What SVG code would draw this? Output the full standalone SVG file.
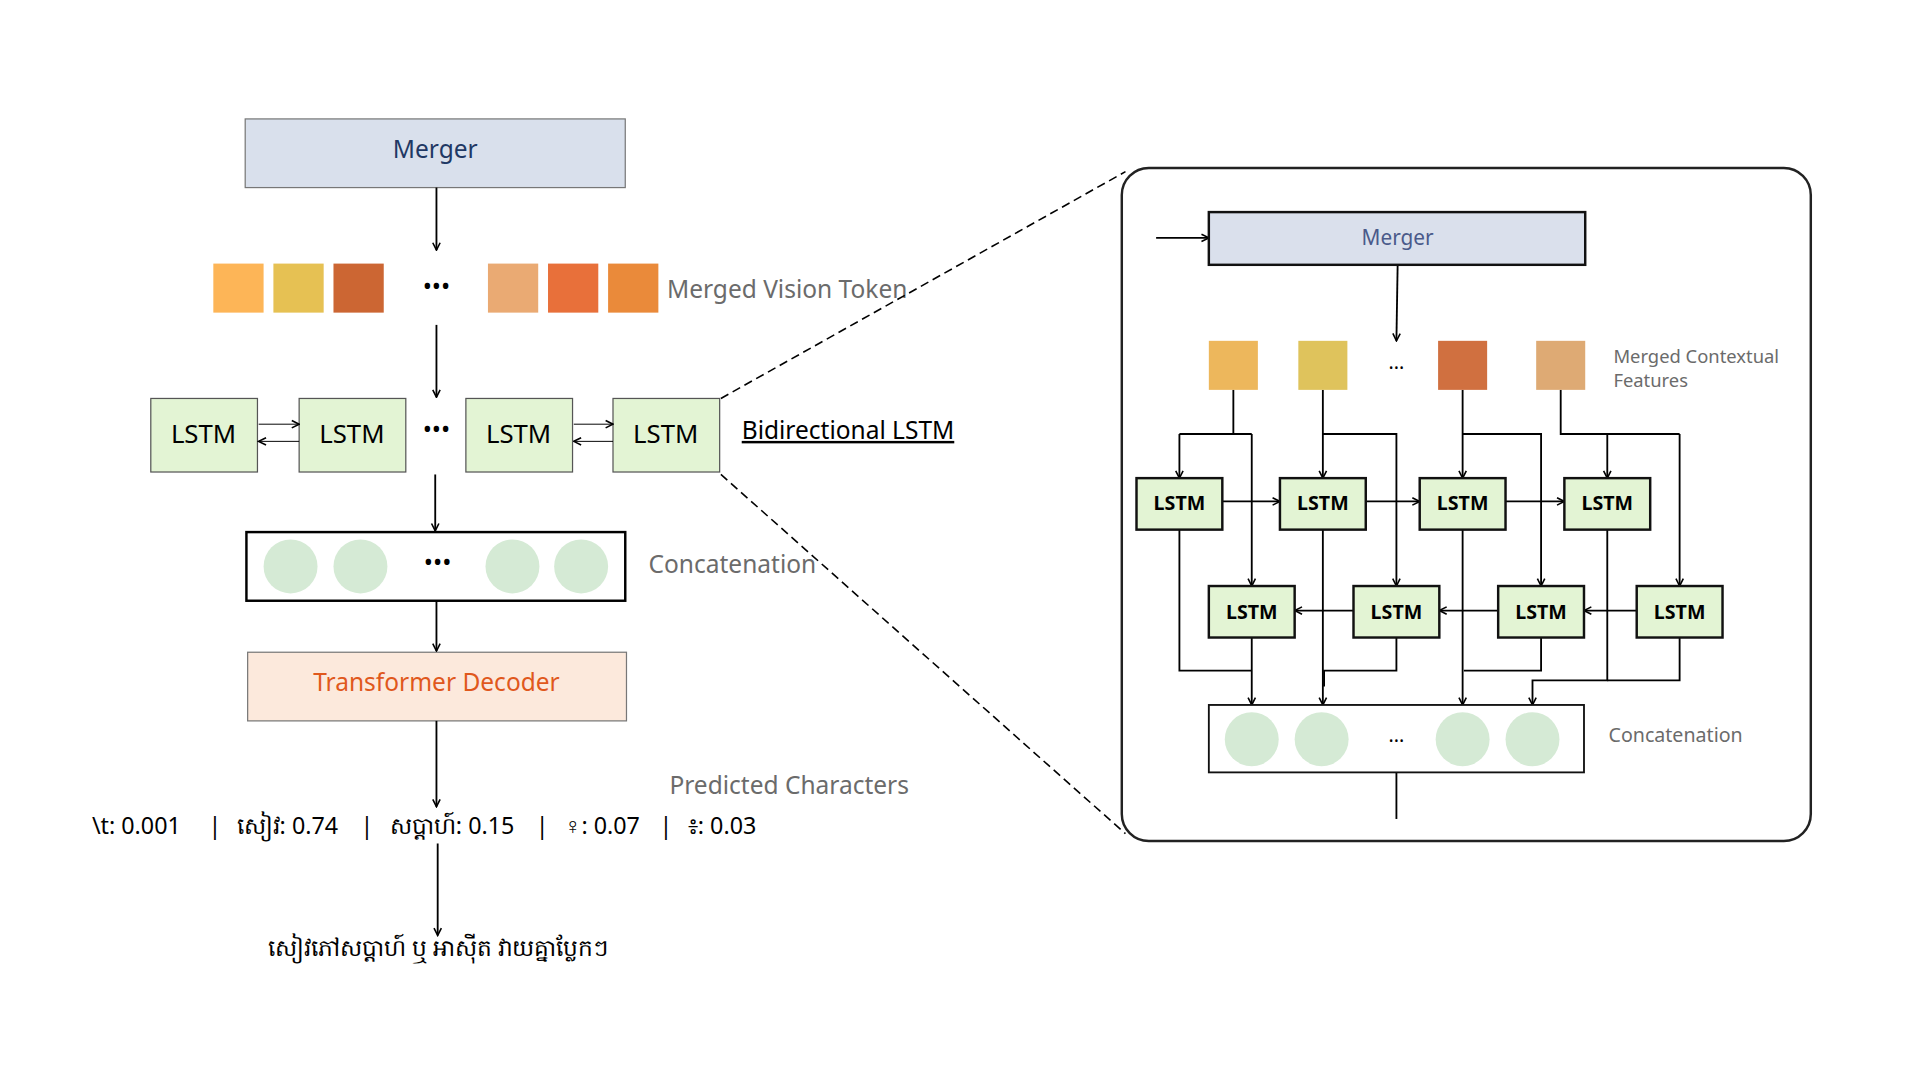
<svg xmlns="http://www.w3.org/2000/svg" width="1920" height="1080" viewBox="0 0 1920 1080">
<style>
text{font-family:"Noto Sans","Open Sans",sans-serif}
.c{stroke:#000;stroke-width:1.5;fill:none}
.a{marker-end:url(#ah)}
.lbl{fill:#6b6b6b;font-size:20px}
.lstm{fill:#e3f4d4;stroke:#555;stroke-width:1}
.il{fill:#e3f4d4;stroke:#111;stroke-width:2}
.it{font-size:16px;font-weight:bold;text-anchor:middle}
.cir{fill:#d5ead5}
.dot{font-size:20px;text-anchor:middle}
</style>
<defs>
<marker id="ah" markerWidth="8" markerHeight="8" refX="7" refY="4" orient="auto" markerUnits="userSpaceOnUse"><path d="M1,1 L7,4 L1,7" fill="none" stroke="#000" stroke-width="1.3"/></marker>
</defs>
<rect width="1920" height="1080" fill="#fff"/>
<g transform="scale(1.226)">
<g id="merger"><rect x="200" y="97" width="310" height="56" fill="#d9e0ec" stroke="#777"/><text x="355" y="129" font-size="20" fill="#1f3864" text-anchor="middle">Merger</text></g>
<g id="tokens">
<rect x="174" y="215" width="41" height="40" fill="#fdb557"/><rect x="223" y="215" width="41" height="40" fill="#e6c153"/><rect x="272" y="215" width="41" height="40" fill="#cc6633"/>
<text x="356" y="241" class="dot">•••</text>
<rect x="398" y="215" width="41" height="40" fill="#eaaa73"/><rect x="447" y="215" width="41" height="40" fill="#e8703a"/><rect x="496" y="215" width="41" height="40" fill="#ea8a3a"/>
<text x="544" y="243" class="lbl">Merged Vision Token</text></g>
<g id="bilstm">
<rect x="123" y="325" width="87" height="60" class="lstm"/><text x="166" y="361" font-size="21" text-anchor="middle">LSTM</text>
<rect x="244" y="325" width="87" height="60" class="lstm"/><text x="287" y="361" font-size="21" text-anchor="middle">LSTM</text>
<text x="356" y="357" class="dot">•••</text>
<rect x="380" y="325" width="87" height="60" class="lstm"/><text x="423" y="361" font-size="21" text-anchor="middle">LSTM</text>
<rect x="500" y="325" width="87" height="60" class="lstm"/><text x="543" y="361" font-size="21" text-anchor="middle">LSTM</text>
<text x="605" y="358" font-size="20" text-decoration="underline">Bidirectional LSTM</text></g>
<g id="concat">
<rect x="201" y="434" width="309" height="56" fill="#fff" stroke="#000" stroke-width="2"/>
<circle cx="237" cy="462" r="22" class="cir"/><circle cx="294" cy="462" r="22" class="cir"/><circle cx="418" cy="462" r="22" class="cir"/><circle cx="474" cy="462" r="22" class="cir"/>
<text x="357" y="466" class="dot">•••</text>
<text x="529" y="467" class="lbl">Concatenation</text></g>
<g id="decoder"><rect x="202" y="532" width="309" height="56" fill="#fce9dc" stroke="#777"/><text x="356" y="564" font-size="20" fill="#e0581c" text-anchor="middle">Transformer Decoder</text></g>
<g id="pred">
<text x="546" y="648" class="lbl">Predicted Characters</text>
<g font-size="19"><text x="75" y="680">\t: 0.001</text><text x="170" y="680">|</text><text x="193" y="680">សៀវ: 0.74</text><text x="294" y="680">|</text><text x="318" y="680">សប្តាហ៍: 0.15</text><text x="437" y="680">|</text><text x="460" y="680">♀: 0.07</text><text x="538" y="680">|</text><text x="561" y="680">៖: 0.03</text></g>
<text x="357" y="780" font-size="19" text-anchor="middle">សៀវភៅសប្តាហ៍ ឬ អាស៊ីត វាយគ្នាប្លែកៗ</text></g>
<g id="connectors">
<path class="c a" d="M356,153V204"/><path class="c a" d="M356,265V324"/><path class="c a" d="M355,387V433"/><path class="c a" d="M356,490V531"/><path class="c a" d="M356,588V658"/><path class="c a" d="M357,688V763"/>
<path class="c a" d="M211,346H244" style="stroke-width:.8"/><path class="c a" d="M244,360H211" style="stroke-width:.8"/><path class="c a" d="M468,346H500" style="stroke-width:.8"/><path class="c a" d="M500,360H468" style="stroke-width:.8"/>
<path d="M588,325L918,140M588,387L918,680" stroke="#000" stroke-width="1.3" stroke-dasharray="7,4" fill="none"/>
<path class="c a" d="M943,194H986"/><path class="c a" d="M1140,216L1139,278"/>
<path class="c" d="M1006,318V354M962,354H1021"/><path class="c a" d="M962,354V390"/><path class="c a" d="M1021,354V478"/>
<path class="c a" d="M1079,318V390"/><path class="c a" d="M1079,354H1139V478"/>
<path class="c a" d="M1193,318V390"/><path class="c a" d="M1193,354H1257V478"/>
<path class="c" d="M1273,318V354H1370"/><path class="c a" d="M1311,354V390"/><path class="c a" d="M1370,354V478"/>
<path class="c a" d="M997,409H1044"/><path class="c a" d="M1114,409H1158"/><path class="c a" d="M1228,409H1276"/>
<path class="c a" d="M1104,498H1056"/><path class="c a" d="M1222,498H1174"/><path class="c a" d="M1335,498H1292"/>
<path class="c" d="M962,432V547H1021"/><path class="c a" d="M1021,520V575"/>
<path class="c a" d="M1079,432V575"/><path class="c" d="M1139,520V547H1080V560"/>
<path class="c a" d="M1193,432V575"/><path class="c" d="M1257,520V547H1194"/>
<path class="c a" d="M1311,432V555H1250V575"/><path class="c" d="M1370,520V555H1311"/>
<path class="c" d="M1139,630V668"/>
</g>
<g id="panel">
<rect x="915" y="137" width="562" height="549" rx="22" fill="none" stroke="#222" stroke-width="2"/>
<rect x="986" y="173" width="307" height="43" fill="#dae0ec" stroke="#111" stroke-width="2"/><text x="1140" y="200" font-size="17" fill="#4a5a8a" text-anchor="middle">Merger</text>
<rect x="986" y="278" width="40" height="40" fill="#edb75c"/><rect x="1059" y="278" width="40" height="40" fill="#dfc35c"/><rect x="1173" y="278" width="40" height="40" fill="#d07040"/><rect x="1253" y="278" width="40" height="40" fill="#deaa74"/>
<text x="1139" y="301" font-size="16" text-anchor="middle">...</text>
<text x="1316" y="296" font-size="15" fill="#6b6b6b">Merged Contextual</text><text x="1316" y="316" font-size="15" fill="#6b6b6b">Features</text>
</g>
<g id="lstm-f1"><rect x="927" y="390" width="70" height="42" class="il"/><text x="962" y="416" class="it">LSTM</text></g>
<g id="lstm-f2"><rect x="1044" y="390" width="70" height="42" class="il"/><text x="1079" y="416" class="it">LSTM</text></g>
<g id="lstm-f3"><rect x="1158" y="390" width="70" height="42" class="il"/><text x="1193" y="416" class="it">LSTM</text></g>
<g id="lstm-f4"><rect x="1276" y="390" width="70" height="42" class="il"/><text x="1311" y="416" class="it">LSTM</text></g>
<g id="lstm-b1"><rect x="986" y="478" width="70" height="42" class="il"/><text x="1021" y="505" class="it">LSTM</text></g>
<g id="lstm-b2"><rect x="1104" y="478" width="70" height="42" class="il"/><text x="1139" y="505" class="it">LSTM</text></g>
<g id="lstm-b3"><rect x="1222" y="478" width="70" height="42" class="il"/><text x="1257" y="505" class="it">LSTM</text></g>
<g id="lstm-b4"><rect x="1335" y="478" width="70" height="42" class="il"/><text x="1370" y="505" class="it">LSTM</text></g>
<g id="concat2">
<rect x="986" y="575" width="306" height="55" fill="#fff" stroke="#111" stroke-width="1.5"/>
<circle cx="1021" cy="603" r="22" class="cir"/><circle cx="1078" cy="603" r="22" class="cir"/><circle cx="1193" cy="603" r="22" class="cir"/><circle cx="1250" cy="603" r="22" class="cir"/>
<text x="1139" y="605" font-size="16" text-anchor="middle">...</text>
<text x="1312" y="605" font-size="16" fill="#6b6b6b">Concatenation</text></g>
</g>
</svg>
